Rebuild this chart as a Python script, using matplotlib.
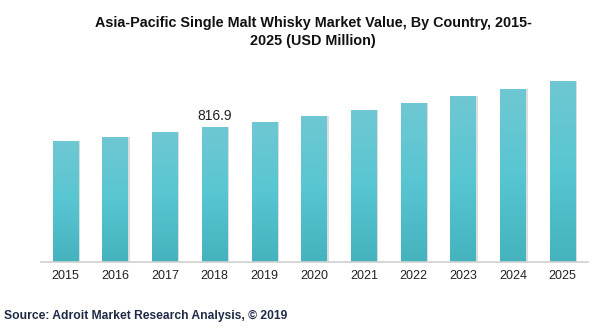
import numpy as np
import matplotlib.pyplot as plt
from matplotlib.colors import LinearSegmentedColormap

plt.rcParams['font.family'] = ['Liberation Sans', 'DejaVu Sans']

# data
years = ['2015', '2016', '2017', '2018', '2019', '2020', '2021', '2022', '2023', '2024', '2025']
values = [732, 756, 787, 816.9, 847, 884, 920, 962, 1004, 1047, 1095]
label_year = '2018'

fig = plt.figure(figsize=(6.11, 3.28), dpi=100)
# axes: left 40.6px, right 587.6px, bottom at 262px, top at 60px
ax = fig.add_axes([40.6 / 611, (328 - 262) / 328, 547 / 611, 202 / 328])

x = np.arange(len(years))
width = 0.515
ymax = 1222

# gradient colour for bars (top lighter, bottom darker)
cmap = LinearSegmentedColormap.from_list('teal', ['#45b3be', '#58c6d2', '#6fc8d2'])
grad = np.linspace(0, 1, 256).reshape(-1, 1)

for xi, v in zip(x, values):
    # soft shadow on the right side
    ax.bar(xi + 0.035, v, width=width, color='#bdbdbd', alpha=0.5, zorder=1)
    bar = ax.bar(xi, v, width=width, color='none', zorder=2)[0]
    im = ax.imshow(grad, extent=(xi - width / 2, xi + width / 2, 0, v), origin='lower',
                   cmap=cmap, aspect='auto', zorder=2)
    im.set_clip_path(bar)

i = years.index(label_year)
ax.text(x[i], values[i] + 22, f'{values[i]}', ha='center', va='bottom', fontsize=10, color='#222222')

ax.set_xlim(-0.5, len(years) - 0.5)
ax.set_ylim(0, ymax)
ax.set_xticks(x)
ax.set_xticklabels(years, fontsize=9, color='#222222')
ax.tick_params(axis='x', length=0, pad=6)
ax.set_yticks([])
for s in ['top', 'right', 'left']:
    ax.spines[s].set_visible(False)
ax.spines['bottom'].set_color('#d0d0d0')
ax.spines['bottom'].set_linewidth(1.2)

fig.text(313 / 611, 1 - 32 / 328,
         'Asia-Pacific Single Malt Whisky Market Value, By Country, 2015-\n2025 (USD Million)',
         ha='center', va='center', fontsize=10.4, fontweight='bold', linespacing=1.3, color='#111111')
fig.text(4 / 611, 1 - 316 / 328, 'Source: Adroit Market Research Analysis, © 2019',
         ha='left', va='center', fontsize=8.7, fontweight='bold', color='#1f2b46')

fig.savefig('out.png', dpi=100)
